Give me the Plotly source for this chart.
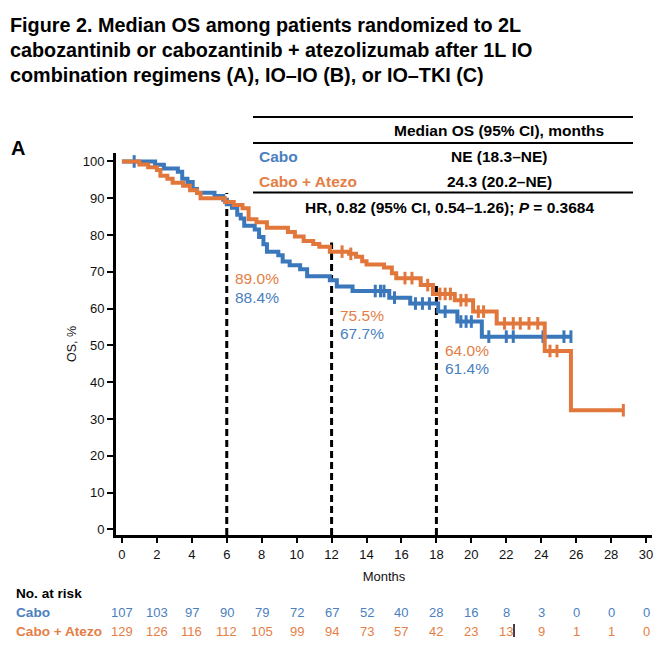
import plotly.graph_objects as go

# ---------------- data ----------------
cabo_t = [0, 1.9, 2.4, 3.2, 3.45, 3.75, 4.05, 4.3, 5.3, 5.8, 6.0, 6.3, 6.6, 6.8, 7.0, 7.6, 7.85,
          8.1, 8.3, 8.95, 9.2, 9.6, 10.2, 10.6, 11.9, 12.3, 13.2, 15.3, 16.5, 18.1, 19.2, 20.6, 25.7]
cabo_s = [100, 99.1, 98.1, 97.2, 95.3, 94.4, 92.5, 91.5, 90.6, 89.6, 88.4, 87.4, 85.5, 84.5, 82.5,
          81.5, 79.5, 77.5, 75.5, 74.5, 72.8, 71.8, 70.7, 68.8, 67.7, 66.0, 64.8, 63.0, 61.4, 59.2,
          56.5, 52.4, 52.4]
cabo_cens = [0.7, 14.5, 14.8, 15.0, 15.6, 16.8, 17.2, 17.6, 18.5, 19.4, 19.7, 20.0, 21.0, 22.0,
             22.4, 24.1, 25.3, 25.7]

atezo_t = [0, 1.0, 1.5, 2.0, 2.2, 2.6, 2.9, 3.5, 3.9, 4.3, 4.5, 5.9, 6.4, 6.9, 7.25, 7.7, 8.3,
           9.5, 9.9, 10.4, 10.95, 11.3, 11.9, 13.0, 13.4, 13.75, 14.0, 15.0, 15.45, 15.7, 17.1,
           17.8, 19.05, 20.1, 21.45, 24.2, 25.7, 28.7]
atezo_s = [100, 99.2, 98.4, 97.7, 96.1, 95.3, 94.2, 93.4, 92.2, 91.4, 90.0, 89.0, 88.2, 87.3, 84.3,
           83.5, 82.0, 80.8, 79.6, 78.4, 77.6, 76.8, 75.5, 74.9, 74.1, 72.9, 72.0, 71.2, 69.6, 68.3,
           66.4, 64.0, 62.3, 59.2, 56.0, 48.5, 32.4, 32.4]
atezo_cens = [12.6, 13.1, 16.2, 16.6, 17.5, 18.2, 18.5, 18.8, 19.4, 19.7, 20.4, 20.7, 21.9, 22.4,
              22.8, 23.3, 23.8, 24.5, 24.9, 28.7]

landmark_months = [6, 12, 18]
landmark_tops = [91.4, 78.0, 66.5]
landmark_cabo = ["88.4%", "67.7%", "61.4%"]
landmark_atezo = ["89.0%", "75.5%", "64.0%"]

risk_months = list(range(0, 31, 2))
risk_cabo = [107, 103, 97, 90, 79, 72, 67, 52, 40, 28, 16, 8, 3, 0, 0, 0]
risk_atezo = [129, 126, 116, 112, 105, 99, 94, 73, 57, 42, 23, 13, 9, 1, 1, 0]

BLUE = "#3b77bb"
ORANGE = "#e2773c"
BLUE_TXT = "#4a80c0"
ORANGE_TXT = "#e47e45"
FONT = "Liberation Sans, Arial, sans-serif"


def step_value(ts, ss, t):
    v = ss[0]
    for ti, si in zip(ts, ss):
        if ti <= t:
            v = si
    return v


fig = go.Figure()
for ts, ss, cens, col in [(cabo_t, cabo_s, cabo_cens, BLUE), (atezo_t, atezo_s, atezo_cens, ORANGE)]:
    fig.add_trace(go.Scatter(x=ts, y=ss, mode="lines", line=dict(color=col, width=4, shape="hv"),
                             showlegend=False, hoverinfo="skip"))
    fig.add_trace(go.Scatter(x=cens, y=[step_value(ts, ss, c) for c in cens], mode="markers",
                             marker=dict(symbol="line-ns-open", size=9, color=col,
                                         line=dict(color=col, width=3)),
                             showlegend=False, hoverinfo="skip"))

# plot area in pixels
W, H = 670, 656
PL, PR, PT, PB = 116, 652, 153, 535


def px(x):
    return (x - PL) / (PR - PL)


def py(y):
    return (PB - y) / (PB - PT)


shapes = []
for m, top in zip(landmark_months, landmark_tops):
    shapes.append(dict(type="line", xref="x", yref="y", x0=m, x1=m, y0=-1.5, y1=top,
                       line=dict(color="black", width=3, dash="7px,4px"), layer="below"))
for yy in [117, 143, 192.5]:
    shapes.append(dict(type="line", xref="paper", yref="paper", x0=px(253), x1=px(633),
                       y0=py(yy), y1=py(yy), line=dict(color="black", width=2)))
# small artifact bar in at-risk table
shapes.append(dict(type="line", xref="paper", yref="paper", x0=px(514), x1=px(514),
                   y0=py(624), y1=py(637), line=dict(color="black", width=1.5)))

ann = []


def add_text(x, y, text, size=13, color="black", xanchor="center", xref="paper", yref="paper"):
    ann.append(dict(x=x, y=y, xref=xref, yref=yref, text=text, showarrow=False, xanchor=xanchor,
                    yanchor="middle", font=dict(family=FONT, size=size, color=color)))


# title
title_lines = ["Figure 2. Median OS among patients randomized to 2L",
               "cabozantinib or cabozantinib + atezolizumab after 1L IO",
               "combination regimens (A), IO–IO (B), or IO–TKI (C)"]
for i, t in enumerate(title_lines):
    add_text(px(8), py(25 + 25 * i), "<b>%s</b>" % t, size=19.8, xanchor="left")
add_text(px(9), py(148), "<b>A</b>", size=20, xanchor="left")

# median table
TS = 15.5
add_text(px(499), py(130), "<b>Median OS (95% CI), months</b>", size=TS)
add_text(px(257), py(156), "<b>Cabo</b>", size=TS, color=BLUE_TXT, xanchor="left")
add_text(px(499), py(156), "<b>NE (18.3–NE)</b>", size=TS)
add_text(px(257), py(181), "<b>Cabo + Atezo</b>", size=TS, color=ORANGE_TXT, xanchor="left")
add_text(px(499), py(181), "<b>24.3 (20.2–NE)</b>", size=TS)
add_text(px(449), py(207), "<b>HR, 0.82 (95% CI, 0.54–1.26); <i>P</i> = 0.3684</b>", size=TS)

# landmark percentages
label_px_y = [(278, 297), (315, 333), (350, 368)]
for m, a, c, (ya, yc) in zip(landmark_months, landmark_atezo, landmark_cabo, label_px_y):
    add_text(m + 0.35, py(ya), a, size=15.5, color=ORANGE_TXT, xanchor="left", xref="x")
    add_text(m + 0.35, py(yc), c, size=15.5, color=BLUE_TXT, xanchor="left", xref="x")

# at-risk table
add_text(px(14), py(593), "<b>No. at risk</b>", size=13.6, xanchor="left")
add_text(px(14), py(612), "<b>Cabo</b>", size=13.6, color=BLUE_TXT, xanchor="left")
add_text(px(14), py(631), "<b>Cabo + Atezo</b>", size=13.6, color=ORANGE_TXT, xanchor="left")
for m, a, b in zip(risk_months, risk_cabo, risk_atezo):
    add_text(m, py(612), str(a), size=13, color=BLUE_TXT, xref="x")
    add_text(m, py(631), str(b), size=13, color=ORANGE_TXT, xref="x")

fig.update_layout(
    width=W, height=H,
    margin=dict(l=PL, r=W - PR, t=PT, b=H - PB, pad=0),
    paper_bgcolor="white", plot_bgcolor="white",
    font=dict(family=FONT, size=13, color="#111111"),
    showlegend=False,
    shapes=shapes, annotations=ann,
    xaxis=dict(range=[-0.34, 30.34], tickvals=risk_months, ticks="outside", ticklen=5, tickwidth=2,
               tickcolor="black", showline=True, linecolor="black", linewidth=3, showgrid=False,
               zeroline=False, tickfont=dict(size=13, family=FONT, color="#111111"),
               title=dict(text="Months", font=dict(size=13, family=FONT), standoff=12)),
    yaxis=dict(range=[-1.5, 102.3], tickvals=list(range(0, 101, 10)), ticks="outside", ticklen=6,
               tickwidth=2, tickcolor="black", showline=True, linecolor="black", linewidth=3,
               showgrid=False, zeroline=False, tickfont=dict(size=13, family=FONT, color="#111111"),
               title=dict(text="OS, %", font=dict(size=12.5, family=FONT), standoff=4)),
)

fig.write_html("out.html")
